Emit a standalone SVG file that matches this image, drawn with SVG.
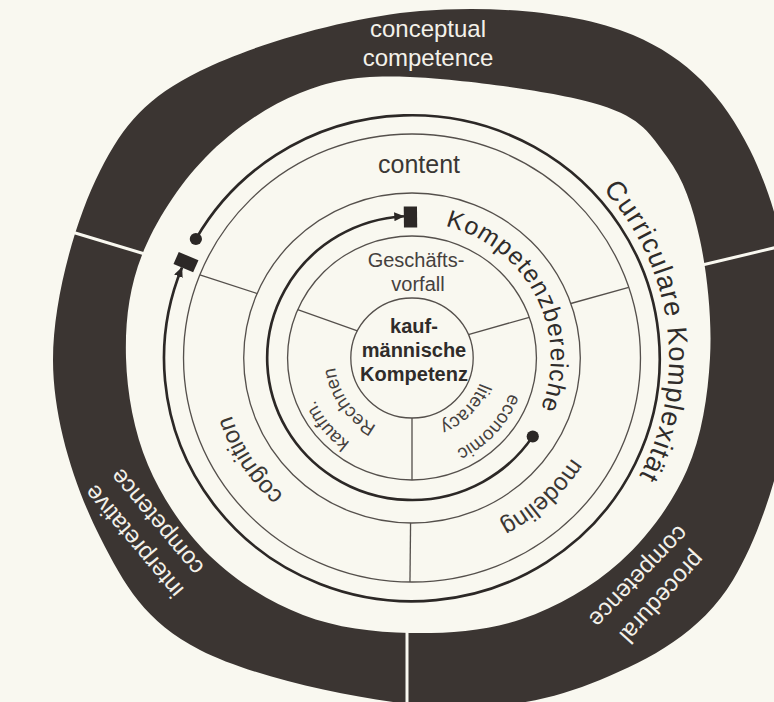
<svg xmlns="http://www.w3.org/2000/svg" width="774" height="702" viewBox="0 0 774 702">
<defs>
<style>
.bg{fill:#f9f8f0}
.band{fill:#3b3532}
.div{stroke:#f9f8f0;stroke-width:3}
.thin{fill:none;stroke:#55504c;stroke-width:1.3}
.thick{fill:none;stroke:#2c2826;stroke-width:2.6}
.mark{fill:#2c2826}
text{font-family:"Liberation Sans",Arial,Helvetica,sans-serif}
.band-t{fill:#f3f1ea;font-size:24px}
.ring-t{fill:#3a3734;font-size:24px}
.big{fill:#2f2c2a;font-size:27px;letter-spacing:1.2px}
.komp{fill:#2f2c2a;font-size:24.5px;letter-spacing:0.9px}
.small{fill:#45413e;font-size:18.5px}
.gv{fill:#45413e;font-size:20px}
.core{fill:#2f2c2a;font-size:20px;font-weight:bold}
</style>
<marker id="arr" viewBox="0 0 10 9" refX="9.5" refY="4.5" markerWidth="10" markerHeight="9" markerUnits="userSpaceOnUse" orient="auto"><path d="M0,0 L10,4.5 L0,9 Z" fill="#2c2826"/></marker>
<path id="p-curr" d="M 187.3 -168.6 A 252 252 0 0 1 126 218.2"/>
<path id="p-komp" d="M 32.7 -132 A 136 136 0 0 1 68 117.8"/>
<path id="p-model" d="M 177.4 55.9 A 186 186 0 0 1 40.3 181.6"/>
<path id="p-cogn" d="M -85.3 165.3 A 186 186 0 0 1 -185.8 8.8"/>
<path id="p-kaufm" d="M -37.3 97.1 A 104 104 0 0 1 -102.7 16.3"/>
<path id="p-rech" d="M -32.1 68.9 A 76 76 0 0 1 -75.7 6.6"/>
<path id="p-econ" d="M 99.6 22.1 A 102 102 0 0 1 30.7 97.3"/>
<path id="p-lit" d="M 68.9 17.2 A 71 71 0 0 1 19.6 68.3"/>
</defs>
<rect class="bg" x="0" y="0" width="774" height="702"/>

<g id="outer-band">
<path class="band" fill-rule="evenodd" d="M 53 360 C 53 299 75.5 219.2 100 171 C 124.5 122.8 146.7 97.7 200 71 C 253.3 44.3 347.8 17 420 11 C 492.2 5 578 11.8 633 35 C 688 58.2 723 95.8 750 150 C 777 204.2 797.8 288.3 795 360 C 792.2 431.7 765.5 526.7 733 580 C 700.5 633.3 650.5 659 600 680 C 549.5 701 496.7 711 430 706 C 363.3 701 255 678.2 200 650 C 145 621.8 124.5 585.3 100 537 C 75.5 488.7 53 421 53 360 Z M 126 358 C 125 323 128.8 288.3 142 255 C 155.2 221.7 178.7 185 205 158 C 231.3 131 265.8 106.5 300 93 C 334.2 79.5 360 75 410 77 C 460 79 557.2 91.7 600 105 C 642.8 118.3 650.3 134.5 667 157 C 683.7 179.5 692.8 206.5 700 240 C 707.2 273.5 712.2 319.7 710 358 C 707.8 396.3 702 436 687 470 C 672 504 647.5 537.2 620 562 C 592.5 586.8 557 607.2 522 619 C 487 630.8 446.5 633.7 410 633 C 373.5 632.3 336.3 627.8 303 615 C 269.7 602.2 235.8 581 210 556 C 184.2 531 162 498 148 465 C 134 432 127 393 126 358 Z"/>
<g class="div">
<line x1="62" y1="229" x2="148" y2="255"/>
<line x1="698" y1="266" x2="782" y2="246"/>
<line x1="407" y1="626" x2="407" y2="706"/>
</g>
</g>

<g id="label-conceptual">
<text class="band-t" text-anchor="middle" x="428" y="37">conceptual</text>
<text class="band-t" text-anchor="middle" x="428" y="66">competence</text>
</g>
<g id="label-interpretative">
<text class="band-t" text-anchor="middle" transform="translate(140.1 536.2) rotate(230)">interpretative</text>
<text class="band-t" text-anchor="middle" transform="translate(163.1 517) rotate(230)">competence</text>
</g>
<g id="label-procedural">
<text class="band-t" text-anchor="middle" transform="translate(656 592) rotate(132)">procedural</text>
<text class="band-t" text-anchor="middle" transform="translate(633 571) rotate(134)">competence</text>
</g>

<g transform="translate(412 358) scale(1.02 1)">
<g id="ring-curricular">
<text class="big"><textPath href="#p-curr">Curriculare Komplexität</textPath></text>
</g>
<g id="ring-middle">
<circle class="thin" r="224"/>
<circle class="thin" r="165"/>
<line class="thin" x1="-151.9" y1="-64.5" x2="-208" y2="-83.2"/>
<line class="thin" x1="155.7" y1="-54.5" x2="212.5" y2="-70.7"/>
<line class="thin" x1="-1.4" y1="165" x2="-2" y2="224"/>
<text class="ring-t" text-anchor="middle"><textPath href="#p-model" startOffset="50%">modeling</textPath></text>
<text class="ring-t" text-anchor="middle"><textPath href="#p-cogn" startOffset="50%">cognition</textPath></text>
</g>
<g id="ring-kompetenzbereiche">
<text class="komp"><textPath href="#p-komp">Kompetenzbereiche</textPath></text>
</g>
<g id="ring-inner">
<circle class="thin" r="122"/>
<line class="thin" x1="-53.5" y1="-27.2" x2="-112.1" y2="-48.3"/>
<line class="thin" x1="55.2" y1="-23.4" x2="115" y2="-40.7"/>
<line class="thin" x1="0" y1="60" x2="0" y2="122"/>
<text class="small" text-anchor="middle"><textPath href="#p-kaufm" startOffset="50%">kaufm.</textPath></text>
<text class="small" text-anchor="middle"><textPath href="#p-rech" startOffset="50%">Rechnen</textPath></text>
<text class="small" text-anchor="middle"><textPath href="#p-econ" startOffset="50%">economic</textPath></text>
<text class="small" text-anchor="middle"><textPath href="#p-lit" startOffset="50%">literacy</textPath></text>
</g>
<g id="center-node">
<circle class="thin" r="60"/>
</g>
<g id="connectors">
<path class="thick" d="M -211.9 -118.9 A 243 243 0 1 1 -225.5 -90.6" marker-end="url(#arr)"/>
<circle class="mark" cx="-211.9" cy="-118.9" r="6"/>
<rect class="mark" x="-10.5" y="-6.5" width="21" height="13" transform="translate(-221.6 -95.9) rotate(203.4)"/>
<path class="thick" d="M 118.4 78.4 A 142 142 0 1 1 -7.9 -141.8" marker-end="url(#arr)"/>
<circle class="mark" cx="118.4" cy="78.4" r="6"/>
<rect class="mark" x="-10.5" y="-6.5" width="21" height="13" transform="translate(-1.5 -141) rotate(269.4)"/>
</g>
</g>

<g id="label-content">
<text class="ring-t" text-anchor="middle" x="419" y="173" style="font-size:25px">content</text>
</g>
<g id="label-geschaeftsvorfall">
<text class="gv" text-anchor="middle" x="416" y="267">Geschäfts-</text>
<text class="gv" text-anchor="middle" x="418" y="291">vorfall</text>
</g>
<g id="label-center">
<text class="core" text-anchor="middle" x="414" y="333">kauf-</text>
<text class="core" text-anchor="middle" x="414" y="357">männische</text>
<text class="core" text-anchor="middle" x="414" y="381">Kompetenz</text>
</g>
</svg>
